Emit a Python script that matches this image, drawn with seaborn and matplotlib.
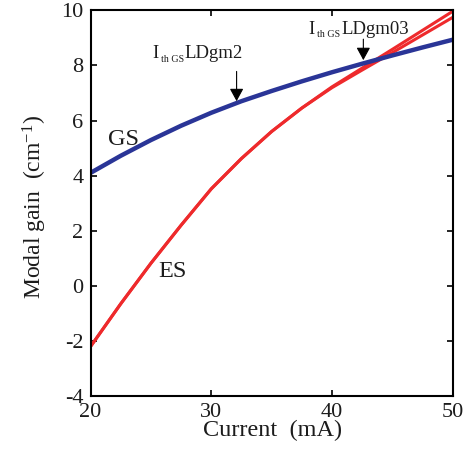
import matplotlib
matplotlib.use("Agg")
import matplotlib.pyplot as plt
import seaborn as sns
import pandas as pd

# Injection current (mA)
current = [20, 22.5, 25, 27.5, 30, 32.5, 35, 37.5, 40, 42.5, 45, 47.5, 50]

# Modal gain of the ground state (cm^-1)
gain_gs = [4.10, 4.72, 5.29, 5.81, 6.28, 6.70, 7.07, 7.42, 7.75, 8.06, 8.36, 8.65, 8.93]

# Modal gain of the excited state, two device runs (cm^-1)
gain_es_a = [-2.20, -0.65, 0.82, 2.20, 3.52, 4.62, 5.60, 6.45, 7.22, 7.90, 8.58, 9.27, 9.96]
gain_es_b = [-2.20, -0.65, 0.82, 2.20, 3.52, 4.62, 5.60, 6.45, 7.19, 7.83, 8.46, 9.10, 9.74]

x_ticks = [20, 30, 40, 50]
y_ticks = [-4, -2, 0, 2, 4, 6, 8, 10]

sns.set_theme(style="ticks")
plt.rcParams["font.family"] = ["Liberation Serif", "DejaVu Serif"]
plt.rcParams["mathtext.fontset"] = "custom"
plt.rcParams["mathtext.rm"] = "Liberation Serif"
plt.rcParams["mathtext.it"] = "Liberation Serif:italic"
plt.rcParams["axes.unicode_minus"] = False

df = pd.DataFrame({
    "current": current * 3,
    "gain": gain_gs + gain_es_a + gain_es_b,
    "curve": ["GS"] * len(current) + ["ES a"] * len(current) + ["ES b"] * len(current),
})

fig = plt.figure(figsize=(4.74, 4.65), dpi=100)
ax = fig.add_axes([0.191, 0.148, 0.764, 0.830])

blue = "#2a3597"
red = "#ee2a2c"
ink = "#1c1c1c"

sns.lineplot(data=df[df.curve == "ES a"], x="current", y="gain", color=red,
             linewidth=2.2, ax=ax, legend=False)
sns.lineplot(data=df[df.curve == "ES b"], x="current", y="gain", color=red,
             linewidth=2.2, ax=ax, legend=False)
sns.lineplot(data=df[df.curve == "GS"], x="current", y="gain", color=blue,
             linewidth=3.2, ax=ax, legend=False)

ax.set_xlim(20, 50)
ax.set_ylim(-4, 10)
ax.set_xticks(x_ticks)
ax.set_yticks(y_ticks)
ax.set_xticklabels([str(t) for t in x_ticks])
ax.set_yticklabels([str(t) for t in y_ticks])

ax.tick_params(direction="in", top=True, right=True, length=4, width=1.2,
               labelsize=16, color="black", labelcolor=ink, pad=5)
for s in ax.spines.values():
    s.set_linewidth(1.5)
    s.set_color("black")

ax.set_xlabel("Current  (mA)", fontsize=17.5, color=ink)
ax.set_ylabel(r"Modal gain  (cm$^{-1}$)", fontsize=17, color=ink)
ax.xaxis.set_label_coords(0.502, -0.062)
ax.yaxis.set_label_coords(-0.115, 0.49)

ax.text(21.43, 5.10, "GS", fontsize=17.5, color=ink, ha="left", va="baseline")
ax.text(25.58, 0.33, "ES", fontsize=17.5, color=ink, ha="left", va="baseline")

arrow_style = dict(arrowstyle="-|>,head_length=0.55,head_width=0.3", color="black",
                   lw=0.8, mutation_scale=14, shrinkA=0, shrinkB=0)

# threshold marker for LDgm2
ax.annotate("", xy=(32.1, 6.70), xytext=(32.1, 7.78), arrowprops=arrow_style)
ax.text(25.14, 8.25, "I", fontsize=13.5, color=ink, ha="left", va="baseline")
ax.text(25.85, 8.14, "th GS", fontsize=7.2, color=ink, ha="left", va="baseline")
ax.text(27.80, 8.25, "LDgm2", fontsize=13.5, color=ink, ha="left", va="baseline")

# threshold marker for LDgm03
ax.annotate("", xy=(42.6, 8.19), xytext=(42.6, 8.95), arrowprops=arrow_style)
ax.text(38.03, 9.15, "I", fontsize=13.5, color=ink, ha="left", va="baseline")
ax.text(38.74, 9.04, "th GS", fontsize=7.2, color=ink, ha="left", va="baseline")
ax.text(40.75, 9.15, "LDgm03", fontsize=13.5, color=ink, ha="left", va="baseline")

fig.savefig("out.png", dpi=100)
